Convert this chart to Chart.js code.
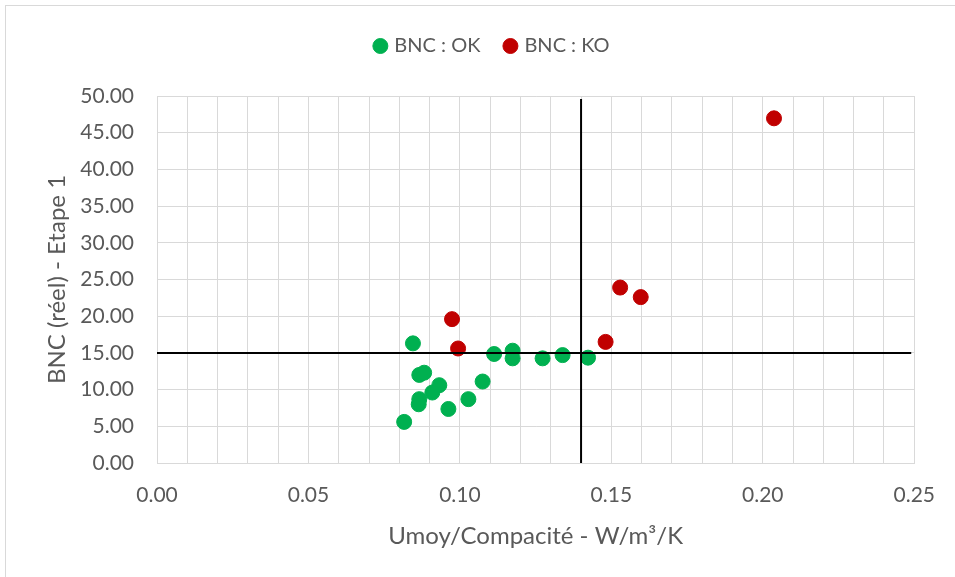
<!DOCTYPE html>
<html lang="fr">

<head>
    <meta charset="UTF-8">
    <title>BNC</title>
    <script src="https://cdn.jsdelivr.net/npm/chart.js"></script>
    <style>
        body {
            margin: 0;
            background: #fff;
        }

        #frame {
            position: absolute;
            left: 5px;
            top: 5px;
            width: 1000px;
            height: 700px;
            border: 1px solid #d9d9d9;
        }

        #chart {
            position: absolute;
            left: 0;
            top: 0;
        }
    </style>
</head>

<body>
    <div id="frame"></div>
    <canvas id="chart" width="955" height="577"></canvas>

    <script>
        // Umoy/Compacité (x) and BNC réel étape 1 (y)
        const okX = [0.0845, 0.1113, 0.1174, 0.1174, 0.1273, 0.1339, 0.1423, 0.0866, 0.0882, 0.0932,
            0.0909, 0.0866, 0.0864, 0.1075, 0.1028, 0.0962, 0.0816]
        const okY = [16.3, 14.85, 15.3, 14.26, 14.26, 14.7, 14.35, 12.0, 12.3, 10.6,
            9.6, 8.7, 8.0, 11.1, 8.7, 7.36, 5.6]

        const koX = [0.0974, 0.0994, 0.1481, 0.1529, 0.1597, 0.2037]
        const koY = [19.6, 15.6, 16.5, 23.9, 22.6, 46.96]

        // seuils
        const vLineX = [0.14, 0.14]
        const vLineY = [0, 49.6]
        const hLineX = [0, 0.249]
        const hLineY = [15, 15]

        const xTickLabels = ["0.00", "0.05", "0.10", "0.15", "0.20", "0.25"]

        const txt = "#595959"
        const grid = "#d9d9d9"
        const fontFam = "Lato, 'Open Sans', sans-serif"

        function pts(xs, ys) {
            return xs.map(function (x, i) { return { x: x, y: ys[i] } })
        }

        const config = {
            type: 'scatter',
            data: {
                datasets: [
                    {
                        label: "BNC : OK",
                        data: pts(okX, okY),
                        backgroundColor: "#00b050",
                        borderColor: "#00b050",
                        pointRadius: 7.5,
                        order: 1
                    },
                    {
                        label: "BNC : KO",
                        data: pts(koX, koY),
                        backgroundColor: "#c00000",
                        borderColor: "#c00000",
                        pointRadius: 7.5,
                        order: 1
                    },
                    {
                        label: "v",
                        data: pts(vLineX, vLineY),
                        showLine: true,
                        borderColor: "#000",
                        borderWidth: 2,
                        pointRadius: 0,
                        order: 0
                    },
                    {
                        label: "h",
                        data: pts(hLineX, hLineY),
                        showLine: true,
                        borderColor: "#000",
                        borderWidth: 2,
                        pointRadius: 0,
                        order: 0
                    }
                ]
            },
            options: {
                responsive: false,
                animation: false,
                events: [],
                layout: {
                    padding: { left: 40, right: 9, top: 10, bottom: 15 }
                },
                plugins: {
                    legend: {
                        position: 'top',
                        labels: {
                            usePointStyle: true,
                            pointStyle: 'circle',
                            boxWidth: 8,
                            boxHeight: 10.6,
                            padding: 26,
                            color: txt,
                            font: { family: fontFam, size: 20 },
                            filter: function (item) { return item.datasetIndex < 2 }
                        }
                    },
                    // empty title used as a gap under the legend
                    title: {
                        display: true,
                        text: '',
                        weight: 500,
                        font: { size: 1 },
                        padding: { top: 28.8, bottom: 0 }
                    },
                    tooltip: { enabled: false }
                },
                scales: {
                    x: {
                        type: 'linear',
                        min: 0,
                        max: 0.25,
                        afterFit: function (s) { s.height = 99 },
                        afterBuildTicks: function (s) {
                            s.ticks = []
                            for (let i = 0; i <= 25; i++) s.ticks.push({ value: i / 100 })
                        },
                        ticks: {
                            autoSkip: false,
                            maxRotation: 0,
                            padding: 20,
                            color: txt,
                            font: { family: fontFam, size: 21 },
                            callback: function (v, i) {
                                return i % 5 === 0 ? xTickLabels[i / 5] : ''
                            }
                        },
                        grid: { color: grid, drawTicks: false },
                        border: { color: grid },
                        title: {
                            display: true,
                            text: "Umoy/Compacité - W/m³/K",
                            color: txt,
                            font: { family: fontFam, size: 24 },
                            padding: { top: 0, bottom: 11.6 }
                        }
                    },
                    y: {
                        min: 0,
                        max: 50,
                        afterFit: function (s) { s.width = 117 },
                        ticks: {
                            stepSize: 5,
                            padding: 23,
                            color: txt,
                            font: { family: fontFam, size: 21 },
                            callback: function (v) { return v.toFixed(2) }
                        },
                        grid: { color: grid, drawTicks: false },
                        border: { color: grid },
                        title: {
                            display: true,
                            text: "BNC (réel) - Etape 1",
                            color: txt,
                            font: { family: fontFam, size: 24 },
                            padding: { top: 2.6, bottom: 0 }
                        }
                    },
                    // empty right axis, only keeps the plot right edge in place
                    y2: {
                        position: 'right',
                        min: 0,
                        max: 50,
                        afterFit: function (s) { s.width = 31 },
                        ticks: { display: false },
                        grid: { display: false },
                        border: { display: false }
                    }
                }
            }
        }

        const myChart = new Chart(document.getElementById('chart'), config)
    </script>
</body>

</html>
